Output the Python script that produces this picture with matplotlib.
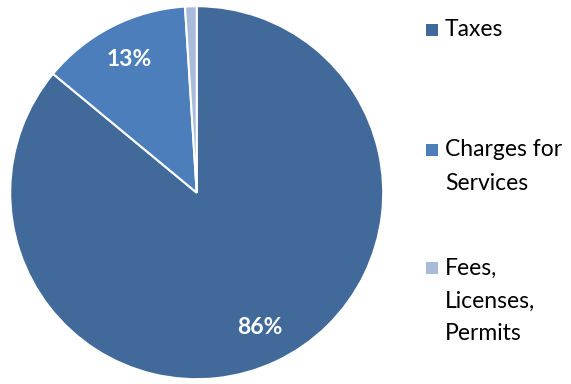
import matplotlib
matplotlib.use("Agg")
import matplotlib.pyplot as plt
from matplotlib.patches import Rectangle

plt.rcParams['font.family'] = ['Lato', 'DejaVu Sans']

labels = ["Taxes", "Charges for\nServices", "Fees,\nLicenses,\nPermits"]
shares = [86, 13, 1]
colors = ["#416A9B", "#4B7EBB", "#A9BBDA"]

W, H = 571, 384
fig = plt.figure(figsize=(W / 100, H / 100), dpi=100)

# pie: centre ~(197, 193) px, radius ~186 px
cx, cy, r = 196.7, 192.7, 186.5
ax = fig.add_axes([(cx - r) / W, (H - cy - r) / H, 2 * r / W, 2 * r / H])


def pct_label(p):
    return "%d%%" % round(p) if p >= 5 else ""


wedges, texts, autotexts = ax.pie(
    shares, colors=colors, startangle=90, counterclock=False,
    autopct=pct_label, pctdistance=0.8,
    wedgeprops=dict(edgecolor="white", linewidth=1.5, clip_on=False),
    textprops=dict(color="white", fontsize=16.5, fontweight="bold"))
ax.set_xlim(-1, 1)
ax.set_ylim(-1, 1)
ax.set_aspect("equal")

# legend drawn by hand, entries spread down the right side
entry_y = [30, 150, 268]
line_h = 33
for lab, col, y in zip(labels, colors, entry_y):
    fig.add_artist(Rectangle(((426) / W, 1 - (y + 6) / H), 12 / W, 12 / H,
                             transform=fig.transFigure, facecolor=col,
                             edgecolor="none"))
    for i, line in enumerate(lab.split("\n")):
        fig.text(445 / W, 1 - (y + i * line_h) / H, line, fontsize=16.5,
                 color="black", va="center", ha="left")

fig.savefig("out.png", dpi=100)
